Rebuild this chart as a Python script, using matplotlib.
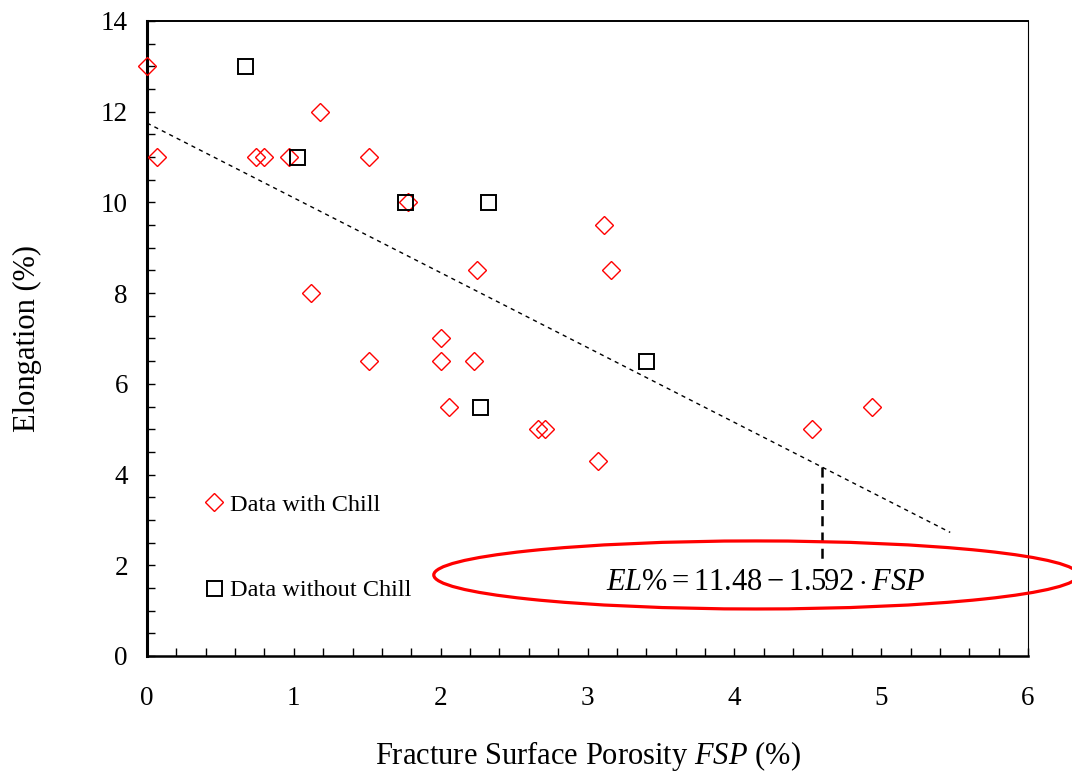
import matplotlib
matplotlib.use("Agg")
import matplotlib.pyplot as plt
from matplotlib.patches import Ellipse
from matplotlib.ticker import MultipleLocator
import numpy as np

plt.rcParams['font.family'] = ['Liberation Serif', 'DejaVu Serif']
plt.rcParams['mathtext.fontset'] = 'custom'
plt.rcParams['mathtext.rm'] = 'Liberation Serif'
plt.rcParams['mathtext.it'] = 'Liberation Serif:italic'

# data with chill (red diamonds)
chill_fsp = [0.0, 0.07, 0.74, 0.80, 0.97, 1.18, 1.51, 1.78, 1.12, 1.51, 2.0, 2.0,
             2.23, 2.25, 2.06, 2.66, 2.71, 3.07, 3.11, 3.16, 4.53, 4.94]
chill_el = [13.0, 11.0, 11.0, 11.0, 11.0, 12.0, 11.0, 10.0, 8.0, 6.5, 7.0, 6.5,
            6.5, 8.5, 5.5, 5.0, 5.0, 4.3, 9.5, 8.5, 5.0, 5.5]

# data without chill (black squares)
nochill_fsp = [0.67, 1.02, 1.76, 2.32, 3.40, 2.27]
nochill_el = [13.0, 11.0, 10.0, 10.0, 6.5, 5.5]

# trend line as drawn
fit_x = [0.0, 5.47]
fit_intercept = 11.75
fit_slope = -1.65
marker_x = 4.6

fig = plt.figure(figsize=(10.72, 7.71), dpi=100)
ax = fig.add_axes([0.1371, 0.1492, 0.8219, 0.8236])

xs = np.array(fit_x)
ax.plot(xs, fit_intercept + fit_slope * xs, color='black', lw=1.0,
        linestyle=(0, (3, 3)), zorder=2)

ax.plot(chill_fsp, chill_el, linestyle='none', marker='D', ms=9.0,
        mfc='none', mec='red', mew=1.0, label='Data with Chill', zorder=3,
        clip_on=False)
ax.plot(nochill_fsp, nochill_el, linestyle='none', marker='s', ms=10.8,
        mfc='none', mec='black', mew=1.4, label='Data without Chill', zorder=3,
        clip_on=False)

# dashed drop line from fit to the equation
y_on_line = fit_intercept + fit_slope * marker_x
ax.plot([marker_x, marker_x], [y_on_line, 2.05], color='black', lw=1.8,
        linestyle=(0, (4, 2.5)), zorder=2)

ell = Ellipse((4.148, 1.786), width=4.39, height=1.50, facecolor='none',
              edgecolor='red', lw=2.3, clip_on=False, zorder=4)
ax.add_patch(ell)
ax.text(4.21, 1.63, r'$\mathit{EL}\% = 11.48 - 1.592\cdot \mathit{FSP}$',
        fontsize=22, ha='center', va='center', zorder=5)

ax.set_xlim(0, 6)
ax.set_ylim(0, 14)
ax.xaxis.set_major_locator(MultipleLocator(1))
ax.xaxis.set_minor_locator(MultipleLocator(0.2))
ax.yaxis.set_major_locator(MultipleLocator(2))
ax.yaxis.set_minor_locator(MultipleLocator(0.5))
ax.tick_params(axis='both', which='both', direction='in', length=6, width=1.0)
ax.tick_params(axis='x', which='major', labelsize=19.5, pad=21.5)
ax.tick_params(axis='y', which='major', labelsize=19.5, pad=13.7)

ax.spines['left'].set_linewidth(2.2)
ax.spines['bottom'].set_linewidth(1.8)
ax.spines['top'].set_linewidth(1.4)
ax.spines['right'].set_linewidth(0.8)

ax.set_xlabel(r'Fracture Surface Porosity $\mathit{FSP}$ (%)', fontsize=22, labelpad=20)
ax.set_ylabel('Elongation (%)', fontsize=22, labelpad=42)

ax.legend(loc='lower left', bbox_to_anchor=(0.051, 0.071), frameon=False,
          fontsize=17.5, labelspacing=2.6, handlelength=1.0, handletextpad=0.15,
          borderaxespad=0)

fig.savefig('out.png', dpi=100)
